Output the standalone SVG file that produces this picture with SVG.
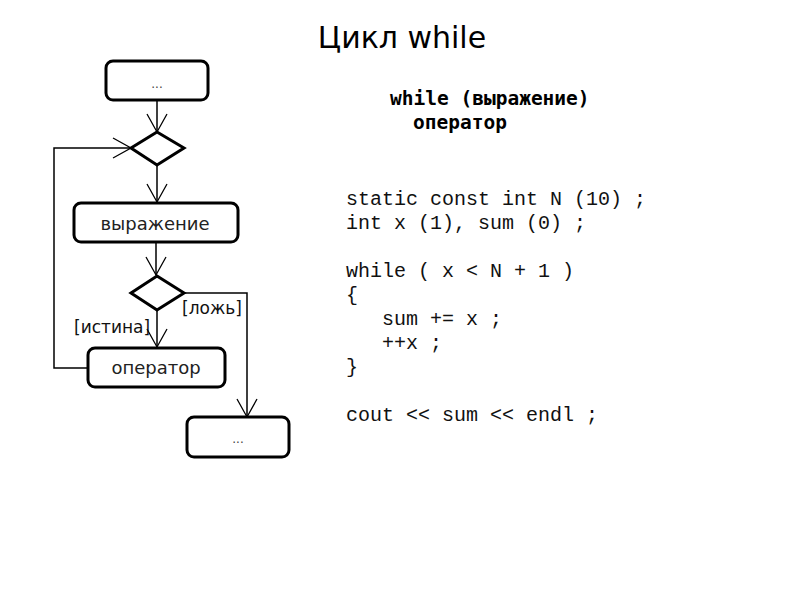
<svg xmlns="http://www.w3.org/2000/svg" width="800" height="600" viewBox="0 0 800 600">
<style>
.box{fill:#fff;stroke:#000;stroke-width:3}
.dia{fill:#fff;stroke:#000;stroke-width:3}
.ln{fill:none;stroke:#000;stroke-width:1.5}
.ah{fill:none;stroke:#000;stroke-width:1.3}
.lbl{font-family:"DejaVu Sans",sans-serif;font-size:18px;fill:#222;text-anchor:middle}
.dots{font-family:"DejaVu Sans",sans-serif;font-size:12px;fill:#444;text-anchor:middle}
.gl{font-family:"DejaVu Sans",sans-serif;font-size:17px;fill:#111}
.code{font-family:"Liberation Mono",monospace;font-size:20px;fill:#111}
.hd{font-family:"DejaVu Sans Mono",monospace;font-size:19.5px;font-weight:bold;fill:#000}
</style>
<rect width="800" height="600" fill="#fff"/>
<text x="402" y="48" font-family="DejaVu Sans,sans-serif" font-size="30" text-anchor="middle">Цикл while</text>

<g id="connectors">
<path class="ln" d="M157,100 V132"/>
<path class="ah" d="M147,114 L157,132 L167,114"/>
<path class="ln" d="M157,165 V202"/>
<path class="ah" d="M147,184 L157,202 L167,184"/>
<path class="ln" d="M156,243 V275"/>
<path class="ah" d="M146,257 L156,275 L166,257"/>
<path class="ln" d="M157,310 V347"/>
<path class="ah" d="M147,329 L157,347 L167,329"/>
<path class="ln" d="M185,293 H247 V417"/>
<path class="ah" d="M237,399 L247,417 L257,399"/>
<path class="ln" d="M87,368 H54 V148 H131"/>
<path class="ah" d="M113,138 L131,148 L113,158"/>
<text class="gl" x="182" y="314">[ложь]</text>
<text class="gl" x="74" y="333">[истина]</text>
</g>

<g id="start"><rect class="box" x="106" y="61" width="102" height="39" rx="7"/><text class="dots" x="157" y="88">...</text></g>
<g id="merge"><polygon class="dia" points="157,132 184,148 157,165 131,148"/></g>
<g id="expr"><rect class="box" x="74" y="203" width="164" height="39" rx="7"/><text class="lbl" x="155" y="230">выражение</text></g>
<g id="decision"><polygon class="dia" points="157,276 184,293 157,310 131,293"/></g>
<g id="stmt"><rect class="box" x="88" y="348" width="137" height="39" rx="7"/><text class="lbl" x="156" y="374">оператор</text></g>
<g id="end"><rect class="box" x="187" y="417" width="102" height="40" rx="7"/><text class="dots" x="238" y="443">...</text></g>

<g id="syntax">
<text class="hd" x="390" y="105">while (выражение)</text>
<text class="hd" x="413" y="129">оператор</text>
</g>
<g id="code" class="code">
<text x="346" y="205">static const int N (10) ;</text>
<text x="346" y="229">int x (1), sum (0) ;</text>
<text x="346" y="277">while ( x &lt; N + 1 )</text>
<text x="346" y="301">{</text>
<text x="382" y="325">sum += x ;</text>
<text x="382" y="349">++x ;</text>
<text x="346" y="373">}</text>
<text x="346" y="421">cout &lt;&lt; sum &lt;&lt; endl ;</text>
</g>
</svg>
